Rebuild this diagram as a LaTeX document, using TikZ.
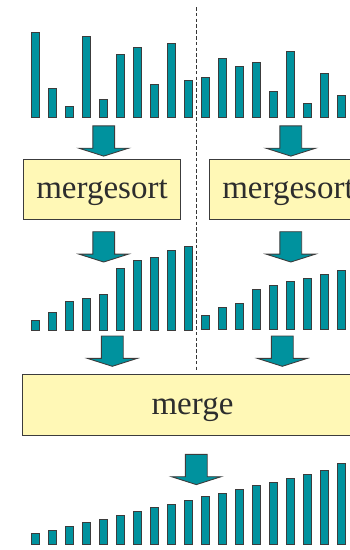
\documentclass[tikz,border=0pt]{standalone}
\usepackage{fontspec}
\setmainfont{Liberation Serif}
\definecolor{tealbar}{RGB}{0,146,158}
\definecolor{boxyellow}{RGB}{255,248,182}
\definecolor{edgegray}{RGB}{60,60,60}
\definecolor{txtgray}{RGB}{45,45,45}
\tikzset{
  barstyle/.style={fill=tealbar, draw=edgegray, line width=1.1pt},
  arrowstyle/.style={fill=tealbar, draw=edgegray, line width=0.9pt, line join=miter},
  boxstyle/.style={fill=boxyellow, draw=edgegray, line width=1pt, text=txtgray,
    font=\fontsize{33}{33}\selectfont, inner sep=0pt, text height=25pt, text depth=7pt},
  divider/.style={draw=edgegray!90!black, line width=1.3pt, dash pattern=on 3.6pt off 2.2pt},
  blockarrow/.pic={\draw[arrowstyle] (-10.9,0) -- (10.9,0) -- (10.9,22.4) -- (24.8,22.4)
      -- (0,30.3) -- (-24.8,22.4) -- (-10.9,22.4) -- cycle;}
}
\begin{document}
\begin{tikzpicture}[x=1pt,y=-1pt]
\useasboundingbox (0,0) rectangle (349,550);
% divider
\coordinate (dtop) at (196.3,7);
\coordinate (dbot) at (196.3,372);
\draw[divider] (dtop) -- (dbot);
% row 1: unsorted
\foreach \t [count=\i from 0] in {32.3,87.7,106,35.7,98.7,54.3,47,84,43.3,80.3,76.7,58,65.7,61.7,91.3,50.7,102.7,72.7,95}
  \draw[barstyle] (31.5+17*\i,117.2) rectangle (39.7+17*\i,\t+0.5);
% row 2: sorted halves
\foreach \t [count=\i from 0] in {319.7,312.3,301,297.7,293.7,268,260.3,257,249.7,245.7}
  \draw[barstyle] (31.5+17*\i,330.8) rectangle (39.7+17*\i,\t+0.5);
\foreach \t [count=\i from 10] in {315,307,303.3,288.7,285,281.3,277.7,273.7,270}
  \draw[barstyle] (31.5+17*\i,329.6) rectangle (39.7+17*\i,\t+0.5);
% row 3: merged
\foreach \t [count=\i from 0] in {533.3,529.7,526,522.3,518.7,515,511,507.3,503.7,500.3,496.3,492.7,489,485.3,481.7,477.7,474,470.3,463.3}
  \draw[barstyle] (31.5+17*\i,544.9) rectangle (39.7+17*\i,\t+0.5);
% boxes
\node[boxstyle, minimum width=157.4pt, minimum height=60.3pt] (ms1) at (102,189.2) {mergesort};
\node[boxstyle, minimum width=157.4pt, minimum height=60.3pt] (ms2) at (288,189.2) {mergesort};
\node[boxstyle, minimum width=340.4pt, minimum height=60.7pt] (mg) at (192.5,405.3) {merge};
% block arrows
\pic (a1) at (103.7,125.8) {blockarrow};
\pic (a2) at (290.8,125.8) {blockarrow};
\pic (a3) at (103.7,231.7) {blockarrow};
\pic (a4) at (290.8,231.7) {blockarrow};
\pic (a5) at (112.3,336) {blockarrow};
\pic (a6) at (282.3,336) {blockarrow};
\pic (a7) at (196.3,454.3) {blockarrow};
\end{tikzpicture}
\end{document}
